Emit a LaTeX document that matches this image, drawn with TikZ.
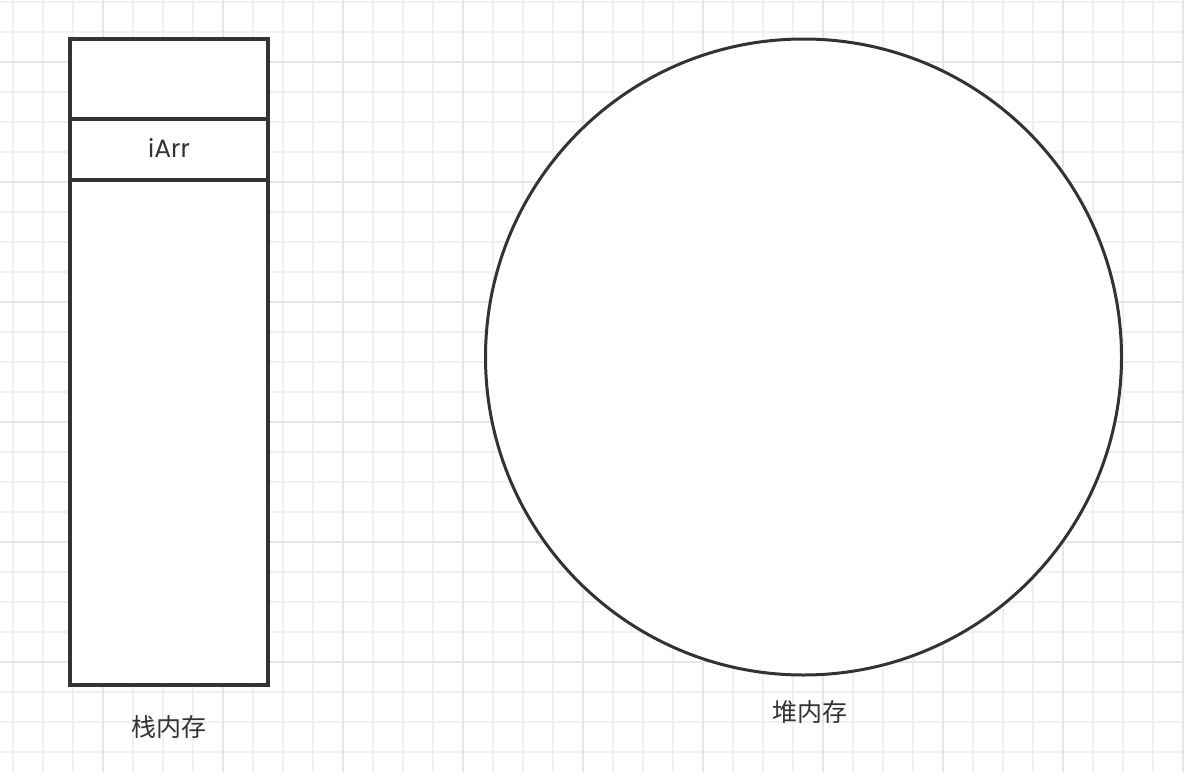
\documentclass[tikz,border=0pt]{standalone}
\usepackage{fontspec}
\setmainfont{Poppins}
\newfontfamily\cjk{Noto Sans CJK SC}
\definecolor{ink}{HTML}{333333}
\definecolor{gridminor}{HTML}{F0F0F0}
\definecolor{gridmajor}{HTML}{E6E6E6}
\begin{document}
\begin{tikzpicture}[x=1pt,y=-1pt,
  cell/.style={draw=ink,line width=3.5pt,fill=white,minimum width=198pt,inner sep=0pt,outer sep=0pt},
  heap/.style={draw=ink,line width=3pt,fill=white,circle,minimum size=636pt,inner sep=0pt},
  caption/.style={text=ink,font=\cjk\fontsize{25}{28}\selectfont,inner sep=0pt},
  minorline/.style={gridminor,line width=2pt},
  majorline/.style={gridmajor,line width=2pt}]
\useasboundingbox (0,0) rectangle (1184,772);
\fill[white] (0,0) rectangle (1184,772);
% grid
\foreach \y in {2,32,...,752} \draw[minorline] (0,\y) -- (1184,\y);
\foreach \x in {13,43,...,1183} \draw[minorline] (\x,0) -- (\x,772);
\foreach \y in {62,182,...,722} \draw[majorline] (0,\y) -- (1184,\y);
\foreach \x in {103,223,...,1183} \draw[majorline] (\x,0) -- (\x,772);
% stack
\node[cell,minimum height=80pt] (top) at (169,79) {};
\node[cell,minimum height=61pt] (iarr) at (169,149.5) {};
\node[text=ink,font=\fontsize{25}{28}\selectfont,inner sep=0pt] (iarrtxt) at (169,147.5) {iArr};
\node[cell,minimum height=505pt] (rest) at (169,432.5) {};
\node[caption] (stacklbl) at (169,727) {栈内存};
% heap
\node[heap] (heapc) at (803.5,357) {};
\node[caption] (heaplbl) at (810,712) {堆内存};
\end{tikzpicture}
\end{document}
